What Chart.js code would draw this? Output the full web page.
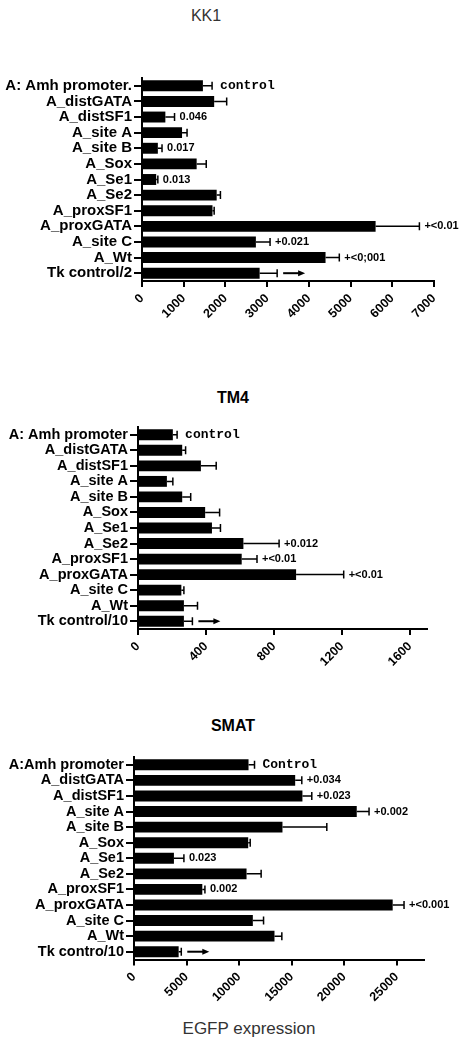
<!DOCTYPE html>
<html>
<head>
<meta charset="utf-8">
<script src="https://cdn.jsdelivr.net/npm/chart.js@4.4.0/dist/chart.umd.min.js"></script>
<style>
  body { margin: 0; background: #fff; width: 468px; height: 1046px; position: relative; overflow: hidden;
         font-family: "Liberation Sans", Arial, sans-serif; }
  .panel { position: absolute; left: 0; }
  .title { position: absolute; transform: translate(-50%, -50%); font-size: 16px; white-space: nowrap; }
</style>
</head>
<body>
<div class="title" style="left:206px; top:16px; color:#333;">KK1</div>
<div class="title" style="left:233px; top:398px; font-weight:bold;">TM4</div>
<div class="title" style="left:233px; top:726px; font-weight:bold;">SMAT</div>
<div class="title" style="left:249px; top:1029px; color:#333; font-size:17px;">EGFP expression</div>

<canvas id="kk1" class="panel" style="top:60px" width="468" height="300"></canvas>
<canvas id="tm4" class="panel" style="top:410px" width="468" height="280"></canvas>
<canvas id="smat" class="panel" style="top:740px" width="468" height="270"></canvas>

<script>
// KK1
const kk1Labels = ['A: Amh promoter.', 'A_distGATA', 'A_distSF1', 'A_site A', 'A_site B', 'A_Sox', 'A_Se1',
    'A_Se2', 'A_proxSF1', 'A_proxGATA', 'A_site C', 'A_Wt', 'Tk control/2'];
const kk1Values = [1460, 1730, 560, 960, 380, 1310, 340, 1790, 1690, 5600, 2730, 4400, 2820];
const kk1Errors = [220, 300, 220, 120, 100, 230, 40, 90, 40, 1050, 340, 330, 420];
const kk1Notes = ['control', '', '0.046', '', '0.017', '', '0.013', '', '', '+<0.01', '+0.021', '+<0;001', 'arrow'];
const kk1Ticks = [0, 1000, 2000, 3000, 4000, 5000, 6000, 7000];

// TM4
const tm4Labels = ['A: Amh promoter', 'A_distGATA', 'A_distSF1', 'A_site A', 'A_site B', 'A_Sox', 'A_Se1',
    'A_Se2', 'A_proxSF1', 'A_proxGATA', 'A_site C', 'A_Wt', 'Tk control/10'];
const tm4Values = [205, 260, 370, 170, 260, 395, 435, 620, 610, 930, 255, 270, 270];
const tm4Errors = [25, 20, 90, 35, 50, 85, 50, 210, 90, 280, 15, 80, 50];
const tm4Notes = ['control', '', '', '', '', '', '', '+0.012', '+<0.01', '+<0.01', '', '', 'arrow'];
const tm4Ticks = [0, 400, 800, 1200, 1600];

// SMAT
const smatLabels = ['A:Amh promoter', 'A_distGATA', 'A_distSF1', 'A_site A', 'A_site B', 'A_Sox', 'A_Se1',
    'A_Se2', 'A_proxSF1', 'A_proxGATA', 'A_site C', 'A_Wt', 'Tk contro/10'];
const smatValues = [10900, 15340, 16030, 21200, 14130, 10870, 3800, 10710, 6500, 24620, 11310, 13370, 4250];
const smatErrors = [570, 630, 890, 1170, 4220, 190, 950, 1390, 250, 1080, 1020, 700, 250];
const smatNotes = ['Control', '+0.034', '+0.023', '+0.002', '', '', '0.023', '', '0.002', '+<0.001', '', '', 'arrow'];
const smatTicks = [0, 5000, 10000, 15000, 20000, 25000];

Chart.defaults.font.family = '"Liberation Sans", Arial, sans-serif';
Chart.defaults.color = '#000';

// draws error bars, p-value notes and the arrow on the Tk row
function errorBarPlugin(values, errors, notes) {
    return {
        id: 'errorBars',
        afterDatasetsDraw(chart) {
            const ctx = chart.ctx;
            const xs = chart.scales.x;
            const bars = chart.getDatasetMeta(0).data;
            ctx.save();
            ctx.strokeStyle = '#000';
            ctx.fillStyle = '#000';
            bars.forEach((bar, i) => {
                const y = bar.y;
                const ex = xs.getPixelForValue(values[i] + errors[i]);
                ctx.lineWidth = 1.5;
                ctx.beginPath();
                ctx.moveTo(bar.x, y);
                ctx.lineTo(ex, y);
                ctx.moveTo(ex, y - 4);
                ctx.lineTo(ex, y + 4);
                ctx.stroke();

                const note = notes[i];
                if (!note) return;
                if (note === 'arrow') {
                    const x0 = ex + 6, x1 = ex + 28;
                    ctx.lineWidth = 2;
                    ctx.beginPath();
                    ctx.moveTo(x0, y);
                    ctx.lineTo(x1 - 5, y);
                    ctx.stroke();
                    ctx.beginPath();
                    ctx.moveTo(x1, y);
                    ctx.lineTo(x1 - 7, y - 3);
                    ctx.lineTo(x1 - 7, y + 3);
                    ctx.closePath();
                    ctx.fill();
                    return;
                }
                const isControl = note.toLowerCase() === 'control';
                ctx.font = isControl
                    ? 'bold 13px "Liberation Mono", "Courier New", monospace'
                    : 'bold 11px "Liberation Sans Narrow", "Arial Narrow", "Liberation Sans", sans-serif';
                ctx.textBaseline = 'middle';
                ctx.textAlign = 'left';
                ctx.fillText(note, ex + (isControl ? 8 : 5), y);
            });
            ctx.restore();
        }
    };
}

function makePanel(id, labels, values, errors, notes, ticks, max, area, height, labelSize) {
    return new Chart(document.getElementById(id), {
        type: 'bar',
        data: {
            labels: labels,
            datasets: [{
                data: values,
                backgroundColor: '#000',
                barPercentage: 0.7,
                categoryPercentage: 1
            }]
        },
        options: {
            indexAxis: 'y',
            responsive: false,
            animation: false,
            devicePixelRatio: 1,
            layout: { padding: { top: area.top, right: 468 - area.right, bottom: 0, left: 0 } },
            plugins: {
                legend: { display: false },
                tooltip: { enabled: false }
            },
            scales: {
                x: {
                    min: 0,
                    max: max,
                    afterBuildTicks(scale) { scale.ticks = ticks.map(v => ({ value: v })); },
                    ticks: {
                        autoSkip: false,
                        minRotation: 45,
                        maxRotation: 45,
                        padding: 4,
                        color: '#000',
                        font: { size: 12.5, weight: 'bold' },
                        callback: v => String(v)
                    },
                    grid: { drawOnChartArea: false, tickLength: 6, color: '#000', lineWidth: 2 },
                    border: { color: '#000', width: 2 },
                    afterFit(scale) { scale.height = height - area.bottom; }
                },
                y: {
                    ticks: {
                        autoSkip: false,
                        padding: 2,
                        color: '#000',
                        font: { size: labelSize, weight: 'bold' }
                    },
                    grid: { drawOnChartArea: false, offset: false, tickLength: 8, color: '#000', lineWidth: 2 },
                    border: { color: '#000', width: 2 },
                    afterFit(scale) { scale.width = area.left; }
                }
            }
        },
        plugins: [errorBarPlugin(values, errors, notes)]
    });
}

makePanel('kk1', kk1Labels, kk1Values, kk1Errors, kk1Notes, kk1Ticks, 7000,
    { left: 142, right: 434, top: 18, bottom: 221 }, 300, 15);
makePanel('tm4', tm4Labels, tm4Values, tm4Errors, tm4Notes, tm4Ticks, 1700,
    { left: 138, right: 427, top: 17, bottom: 219 }, 280, 14.5);
makePanel('smat', smatLabels, smatValues, smatErrors, smatNotes, smatTicks, 27600,
    { left: 134, right: 424, top: 17, bottom: 219.5 }, 270, 14.5);
</script>
</body>
</html>
